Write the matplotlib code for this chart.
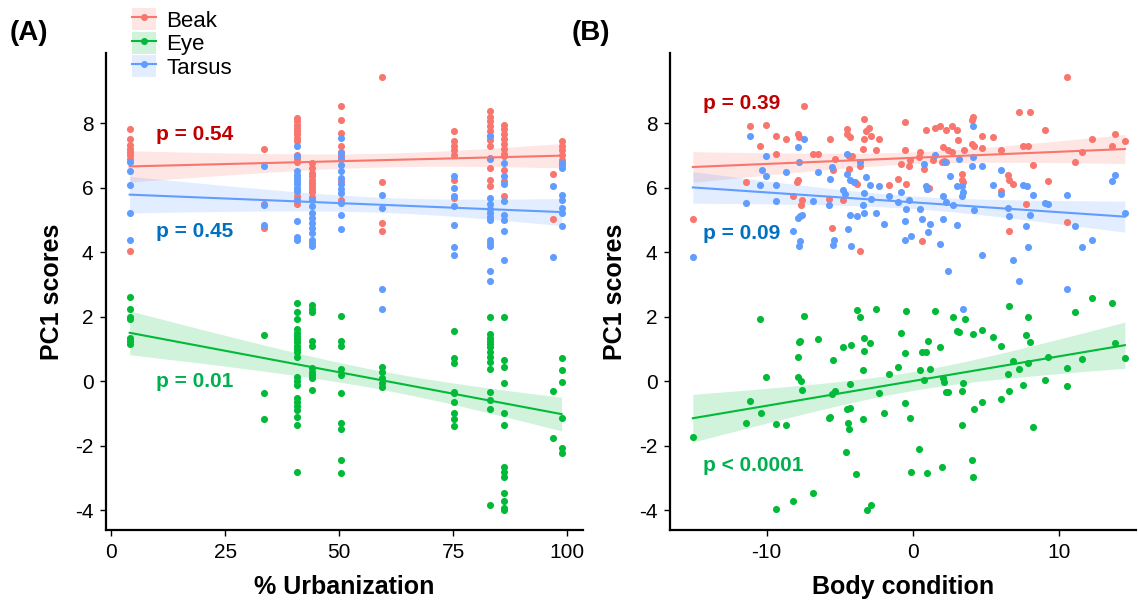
import numpy as np
import matplotlib
matplotlib.use("Agg")
import matplotlib.pyplot as plt
from matplotlib.lines import Line2D
from matplotlib.patches import Patch

plt.rcParams['font.family'] = ['Liberation Sans', 'DejaVu Sans']
plt.rcParams['axes.unicode_minus'] = False

COLORS = {"Beak": "#F8766D", "Eye": "#00BA38", "Tarsus": "#619CFF"}
P_COLORS = {"Beak": "#C00000", "Eye": "#00B050", "Tarsus": "#0070C0"}

# ---- panel A: PC1 scores by site urbanization (%) ----
urban_sites = [4, 33.5, 40.7, 44, 50.3, 59.3, 75.2, 83, 86.2, 97, 98.8]

urban_beak = [
    [7.82, 7.52, 7.33, 7.2, 7.1, 7.0, 6.9, 4.03],
    [7.18, 5.49, 4.76],
    [8.15, 8.05, 7.95, 7.85, 7.75, 7.65, 7.55, 7.45, 7.0, 6.9, 6.8, 5.9, 5.75, 5.6, 5.5],
    [6.76, 6.6, 6.45, 6.35, 6.25, 6.15, 6.05, 5.95, 5.85, 5.7],
    [8.52, 8.1, 7.69, 7.28, 7.1, 6.97, 6.19, 5.62],
    [9.43, 6.16, 4.9, 4.64],
    [7.74, 7.45, 7.28, 7.15, 7.02, 6.24, 5.67],
    [8.36, 8.2, 8.05, 7.9, 7.75, 7.6, 7.48, 7.28, 6.91, 6.6, 6.24, 6.04, 4.28],
    [7.95, 7.8, 7.65, 7.5, 7.35, 7.2, 7.05, 6.97, 6.55, 6.19, 5.73],
    [6.43, 5.02],
    [7.45, 7.3, 7.15, 7.0, 6.85, 6.7],
]
urban_eye = [
    [2.6, 2.24, 2.0, 1.92, 1.35, 1.25, 1.16],
    [1.42, -0.38, -1.18],
    [2.42, 2.16, 1.93, 1.61, 1.5, 1.4, 1.3, 1.2, 1.1, 1.0, 0.9, 0.76, 0.14, 0.0,
     -0.11, -0.53, -0.65, -0.77, -0.89, -1.1, -1.35, -2.8],
    [2.35, 2.25, 2.15, 1.26, 1.1, 0.4, 0.3, 0.2, 0.1, -0.27],
    [2.03, 1.26, 1.1, 0.37, 0.2, -0.38, -1.28, -1.49, -2.44, -2.85],
    [0.43, 0.3, 0.1, -0.06, -0.17],
    [1.56, 0.71, 0.56, -0.32, -0.37, -0.63, -0.97, -1.18, -1.38],
    [1.98, 1.47, 1.35, 1.25, 1.15, 1.05, 0.9, 0.75, 0.61, 0.37, -0.32, -0.58, -0.87, -3.83],
    [1.98, 0.66, 0.43, -0.06, -0.99, -1.36, -2.65, -2.8, -2.96, -3.45, -3.71, -3.94, -3.99],
    [-0.3, -1.75],
    [0.73, 0.35, -0.03, -1.13, -2.08, -2.23],
]
urban_tarsus = [
    [6.8, 6.5, 6.09, 5.21, 4.38],
    [6.66, 5.45, 4.83],
    [7.28, 6.97, 6.5, 6.4, 6.3, 6.2, 6.1, 6.0, 5.9, 5.62, 4.95, 4.48, 4.38],
    [5.62, 5.42, 5.2, 5.05, 4.9, 4.75, 4.6, 4.38, 4.28, 4.18],
    [7.53, 7.07, 6.9, 6.7, 6.5, 6.3, 6.1, 5.95, 5.83, 5.52, 5.16, 4.71],
    [5.78, 5.36, 2.85, 2.24],
    [6.35, 5.98, 5.73, 5.42, 4.85, 4.16, 3.92],
    [7.59, 6.9, 5.67, 5.5, 5.35, 5.2, 5.1, 5.0, 4.38, 4.18, 3.43, 3.12],
    [6.76, 6.35, 6.1, 5.57, 5.16, 5.0, 4.64, 3.76],
    [6.06, 3.84],
    [6.76, 6.6, 5.78, 5.62, 5.36, 5.21, 4.8],
]

# ---- panel B: PC1 scores by body condition ----
body_beak_x = [-15.04, -11.38, -11.10, -10.42, -10.01, -9.33, -9.33, -8.67, -8.19, -7.87,
               -7.80, -7.85, -7.92, -7.58, -7.65, -7.42, -6.85, -6.48, -5.76, -5.64,
               -5.53, -5.48, -5.35, -4.78, -4.51, -4.51, -4.39, -4.28, -4.39, -4.16,
               -3.94, -3.82, -3.64, -3.60, -3.32, -3.32, -3.41, -3.21, -3.03, -2.84,
               -2.50, -2.30, -1.66, -1.05, -0.82, -0.57, -0.57, -0.48, -0.27, -0.18,
               0.46, 0.43, 0.61, 0.77, 0.89, 0.96, 1.11, 1.37, 1.52, 1.87,
               2.00, 2.14, 2.25, 2.28, 2.66, 3.00, 3.05, 2.09, 2.37, 2.66,
               3.34, 3.39, 3.46, 3.50, 4.03, 4.14, 4.07, 4.19, 4.71, 4.71,
               5.51, 6.01, 6.01, 6.53, 6.58, 6.60, 6.87, 7.28, 7.55, 7.71,
               7.90, 8.01, 8.24, 9.03, 9.26, 10.56, 10.56, 11.08, 11.54, 12.22,
               13.63, 13.81, 14.49]
body_beak_y = [5.02, 6.16, 7.92, 7.30, 7.94, 7.61, 7.04, 7.52, 5.73, 7.65,
               7.57, 6.24, 6.16, 5.62, 5.45, 8.52, 7.04, 7.04, 5.66, 7.52,
               4.76, 6.55, 6.90, 5.62, 7.83, 7.67, 6.99, 7.57, 6.57, 6.97,
               6.16, 6.12, 4.05, 6.68, 8.12, 7.52, 7.19, 7.74, 7.84, 7.61,
               7.15, 7.52, 6.08, 6.28, 6.73, 8.02, 7.15, 6.12, 6.68, 6.85,
               7.11, 6.95, 4.35, 6.58, 7.79, 5.95, 5.98, 6.86, 7.84, 7.92,
               6.80, 6.81, 7.77, 6.78, 7.92, 7.77, 7.46, 7.25, 7.17, 7.11,
               6.43, 6.24, 6.16, 7.17, 8.10, 8.19, 7.36, 7.28, 7.61, 7.22,
               7.57, 7.17, 5.88, 6.39, 4.64, 6.24, 6.12, 8.33, 7.28, 5.48,
               7.28, 8.33, 6.70, 7.79, 6.20, 9.43, 4.92, 6.78, 7.11, 7.52,
               7.28, 7.65, 7.45]

body_eye_x = [-15.04, -11.38, -11.10, -10.42, -10.35, -10.01, -9.33, -9.33, -8.67, -8.19,
              -7.87, -7.80, -7.74, -7.85, -7.65, -7.58, -7.42, -6.83, -6.48, -5.76,
              -5.64, -5.53, -5.48, -5.35, -4.78, -4.57, -4.51, -4.44, -4.39, -4.28,
              -4.32, -4.23, -3.89, -3.82, -3.64, -3.41, -3.41, -3.32, -3.32, -3.14,
              -2.91, -2.84, -2.50, -2.30, -2.00, -1.66, -1.05, -0.82, -0.57, -0.57,
              -0.48, -0.23, -0.14, 0.43, 0.46, 0.61, 0.77, 0.89, 0.96, 1.00,
              1.14, 1.52, 1.87, 2.00, 2.09, 2.14, 2.25, 2.43, 2.71, 3.00,
              3.12, 3.34, 3.37, 3.46, 3.53, 4.03, 4.10, 4.14, 4.19, 4.71,
              4.71, 5.51, 6.01, 6.01, 6.53, 6.58, 6.60, 6.87, 7.28, 7.55,
              7.71, 7.90, 7.90, 8.01, 8.24, 9.03, 9.26, 10.56, 10.56, 11.08,
              11.54, 12.22, 13.63, 13.81, 14.49]
body_eye_y = [-1.74, -1.30, -0.60, 1.93, -0.99, 0.12, -1.32, -3.95, -1.36, -3.71,
              0.14, 1.22, 1.26, 0.76, 0.02, -0.27, 2.03, -3.45, 1.30, -1.13,
              -1.10, -0.39, 0.66, -0.29, 1.07, -2.19, -0.87, -1.28, -1.47, -0.84,
              -0.08, 1.11, -2.87, 2.21, 1.98, -1.18, 0.35, 0.95, 1.33, -3.99,
              1.18, -3.83, 2.24, -0.37, -0.99, 0.23, 0.45, 1.49, -0.68, 0.87,
              2.17, -1.13, -2.80, -2.09, 0.35, 0.91, 0.04, 0.91, -2.83, 1.26,
              0.38, 2.17, 1.06, -2.65, 0.09, -0.01, -0.33, -0.33, 1.98, 1.57,
              1.52, -0.30, -1.36, -0.06, 1.94, -2.44, 1.45, -2.96, -0.87, 1.59,
              -0.64, 1.36, 1.10, -0.56, 0.23, -0.30, 2.34, 0.64, 0.38, -0.11,
              1.42, 1.98, 0.58, 1.21, -1.41, 0.04, 0.75, 0.42, -0.16, 2.14,
              0.68, 2.59, 2.41, 1.19, 0.72]

body_tarsus_x = [-15.04, -11.38, -11.10, -10.42, -10.31, -10.01, -10.01, -9.33, -9.33, -8.67,
                 -8.19, -7.87, -7.85, -7.80, -7.74, -7.58, -7.69, -7.80, -7.42, -6.83,
                 -6.48, -5.76, -5.64, -5.53, -5.48, -5.37, -4.51, -4.51, -4.44, -4.28,
                 -4.23, -4.32, -4.78, -4.62, -4.05, -3.82, -3.64, -3.41, -3.37, -3.32,
                 -3.19, -2.91, -2.84, -2.50, -2.30, -2.00, -1.66, -1.05, -0.82, -0.57,
                 -0.57, -0.46, -0.27, -0.14, 0.46, 0.61, 0.77, 0.89, 0.96, 1.00,
                 1.14, 1.52, 1.87, 2.05, 2.09, 2.21, 2.37, 2.28, 2.53, 2.71,
                 3.00, 3.00, 3.12, 3.34, 3.37, 3.46, 3.46, 4.07, 4.10, 4.10,
                 4.19, 4.71, 4.71, 5.51, 6.01, 6.01, 6.53, 6.60, 6.87, 7.28,
                 7.55, 7.83, 7.71, 7.90, 8.01, 8.24, 9.03, 9.26, 10.56, 10.56,
                 11.08, 11.54, 12.22, 13.63, 13.81, 14.49]
body_tarsus_y = [3.84, 5.52, 7.61, 6.08, 6.55, 6.97, 6.35, 6.08, 5.59, 6.49,
                 4.64, 5.05, 7.26, 6.80, 5.11, 5.14, 4.33, 4.20, 7.52, 5.59,
                 6.49, 5.45, 6.26, 6.64, 4.23, 4.38, 7.05, 6.43, 4.71, 6.24,
                 4.18, 5.14, 5.91, 5.81, 6.16, 5.11, 6.80, 5.46, 5.21, 5.83,
                 6.33, 6.08, 5.66, 5.21, 6.06, 4.88, 5.73, 5.54, 5.85, 4.95,
                 4.38, 5.33, 5.62, 4.49, 5.33, 5.02, 6.74, 6.06, 5.95, 4.61,
                 4.88, 7.01, 4.26, 5.02, 5.73, 6.78, 3.43, 5.54, 6.35, 5.45,
                 4.84, 6.04, 6.88, 5.73, 6.04, 2.25, 5.85, 6.66, 6.95, 7.92,
                 5.29, 6.66, 3.92, 6.08, 6.53, 5.81, 5.36, 5.11, 3.76, 3.12,
                 6.08, 6.04, 4.80, 4.16, 5.14, 5.78, 5.52, 5.48, 5.78, 2.85,
                 4.80, 4.16, 4.38, 6.19, 6.39, 5.21]

P_A = {"Beak": "p = 0.54", "Tarsus": "p = 0.45", "Eye": "p = 0.01"}
P_B = {"Beak": "p = 0.39", "Tarsus": "p = 0.09", "Eye": "p < 0.0001"}


def flatten(sites, groups):
    xs, ys = [], []
    for s, vals in zip(sites, groups):
        xs += [s] * len(vals)
        ys += vals
    return np.array(xs, float), np.array(ys, float)


def smooth(ax, x, y, color):
    # lm fit with 95% confidence band, like geom_smooth(method = "lm")
    x = np.asarray(x, float)
    y = np.asarray(y, float)
    b, a = np.polyfit(x, y, 1)
    n = len(x)
    resid = y - (a + b * x)
    s = np.sqrt(np.sum(resid ** 2) / (n - 2))
    sxx = np.sum((x - x.mean()) ** 2)
    grid = np.linspace(x.min(), x.max(), 80)
    pred = a + b * grid
    se = s * np.sqrt(1 / n + (grid - x.mean()) ** 2 / sxx)
    t = 1.98
    ax.fill_between(grid, pred - t * se, pred + t * se, color=color, alpha=0.18,
                    lw=0, zorder=1)
    ax.plot(grid, pred, color=color, lw=1.5, zorder=3)


def style(ax):
    for side in ["top", "right"]:
        ax.spines[side].set_visible(False)
    for side in ["left", "bottom"]:
        ax.spines[side].set_linewidth(1.6)
    ax.tick_params(length=4, width=1, labelsize=15, pad=5, colors="black")
    ax.set_ylim(-4.61, 10.17)
    ax.set_yticks([-4, -2, 0, 2, 4, 6, 8])
    ax.set_ylabel("PC1 scores", fontsize=18, fontweight="bold")
    ax.yaxis.label.set_ha("center")
    ax.yaxis.label.set_va("center")
    ax.xaxis.label.set_va("center")


W, H = 1138, 608
fig = plt.figure(figsize=(W / 100, H / 100), dpi=100)
axA = fig.add_axes([106 / W, 78 / H, 477 / W, 477 / H])
axB = fig.add_axes([670 / W, 78 / H, 466 / W, 477 / H])

urban = {
    "Beak": flatten(urban_sites, urban_beak),
    "Eye": flatten(urban_sites, urban_eye),
    "Tarsus": flatten(urban_sites, urban_tarsus),
}
body = {
    "Beak": (body_beak_x, body_beak_y),
    "Eye": (body_eye_x, body_eye_y),
    "Tarsus": (body_tarsus_x, body_tarsus_y),
}

for ax, data in [(axA, urban), (axB, body)]:
    for name in ["Beak", "Eye", "Tarsus"]:
        x, y = data[name]
        ax.scatter(x, y, s=26, color=COLORS[name], lw=0, zorder=2)
        smooth(ax, x, y, COLORS[name])
    style(ax)

axA.set_xlim(-1.2, 103.5)
axA.set_xticks([0, 25, 50, 75, 100])
axA.set_xlabel("% Urbanization", fontsize=18, fontweight="bold")
axA.xaxis.set_label_coords(0.5, -0.12)
axA.yaxis.set_label_coords(-0.113, 0.5)

axB.set_xlim(-16.6, 15.25)
axB.set_xticks([-10, 0, 10])
axB.set_xlabel("Body condition", fontsize=18, fontweight="bold")
axB.xaxis.set_label_coords(0.5, -0.12)
axB.yaxis.set_label_coords(-0.118, 0.5)

# p-value annotations
for name, yv in [("Beak", 7.64), ("Tarsus", 4.64), ("Eye", 0.0)]:
    axA.text(9.8, yv, P_A[name], color=P_COLORS[name], fontsize=15,
             fontweight="bold", va="center", ha="left")
for name, yv in [("Beak", 8.62), ("Tarsus", 4.59), ("Eye", -2.6)]:
    axB.text(-14.33, yv, P_B[name], color=P_COLORS[name], fontsize=15,
             fontweight="bold", va="center", ha="left")

fig.text(10 / W, 1 - 33 / H, "(A)", fontsize=20, fontweight="bold", va="center")
fig.text(572 / W, 1 - 33 / H, "(B)", fontsize=20, fontweight="bold", va="center")

handles = [
    (Patch(facecolor=COLORS[n], alpha=0.18, edgecolor="none"),
     Line2D([0], [0], color=COLORS[n], lw=1.5, marker="o", markersize=4))
    for n in ["Beak", "Eye", "Tarsus"]
]
fig.legend(handles, ["Beak", "Eye", "Tarsus"], loc="upper left",
           bbox_to_anchor=(132 / W, 1 - 8 / H), frameon=False, fontsize=16,
           handlelength=1.1, handleheight=1.15, labelspacing=0.0,
           handletextpad=0.45, borderpad=0, borderaxespad=0)

fig.savefig("out.png", dpi=100)
